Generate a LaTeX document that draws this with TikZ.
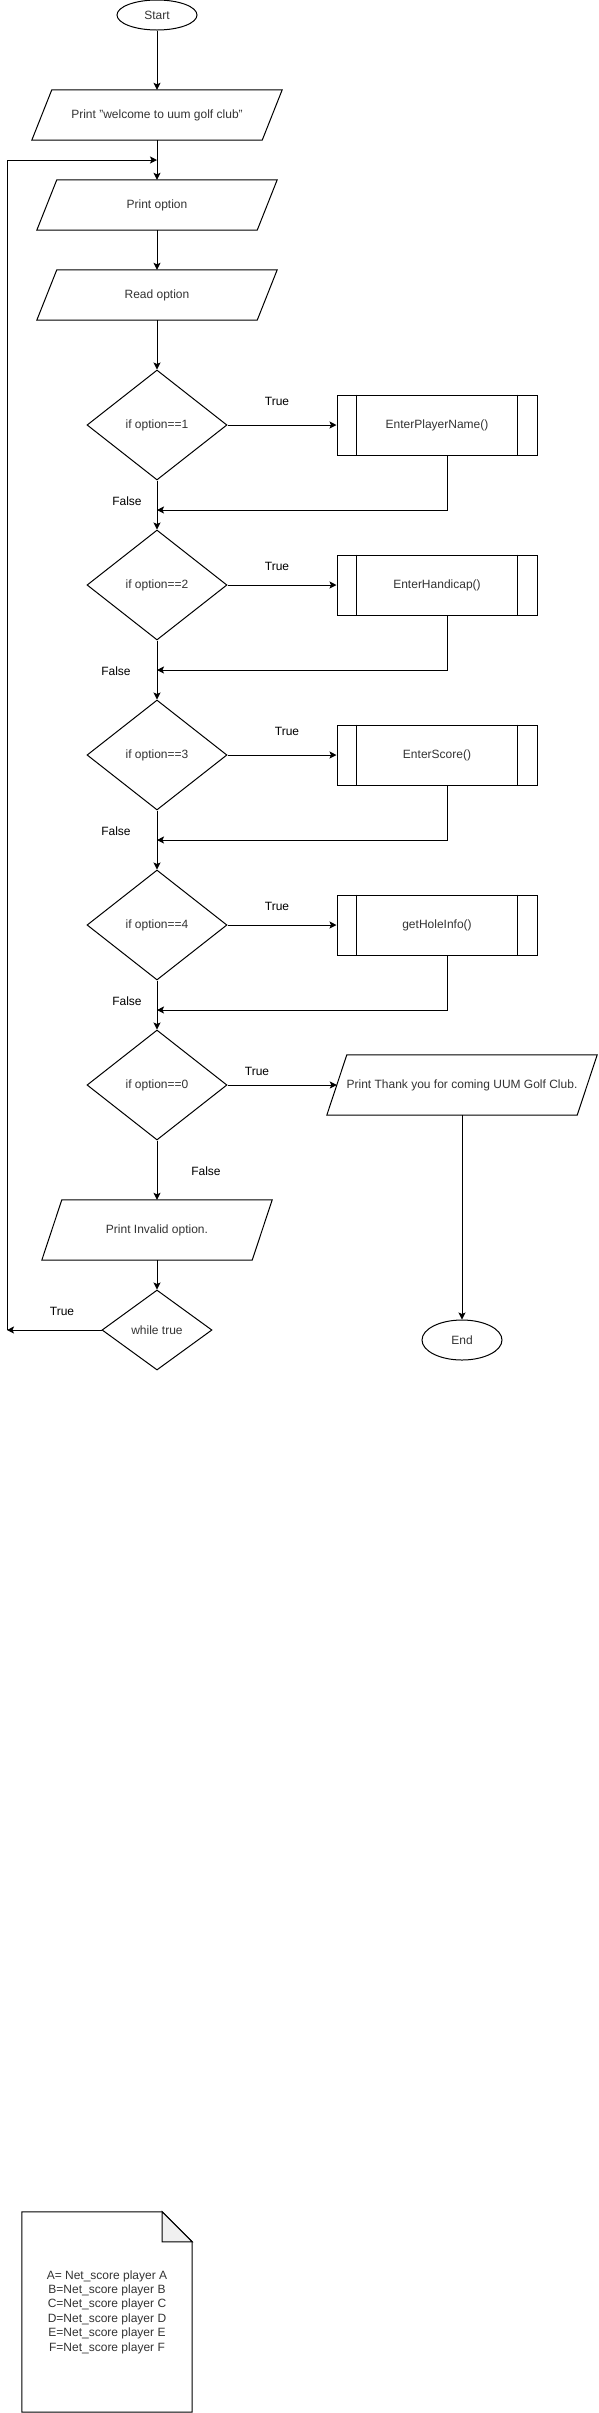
\documentclass[tikz,border=0pt]{standalone}
\usepackage{fontspec}
\setmainfont{Liberation Sans}
\usetikzlibrary{shapes.geometric,arrows.meta,calc}
\definecolor{txt}{HTML}{333333}
\definecolor{foldfill}{HTML}{F0F0F0}
\begin{document}
\begin{tikzpicture}[x=1pt,y=-1pt,
  font=\fontsize{12}{14.4}\selectfont,
  line/.style={draw=black, line width=1pt},
  arr/.style={line, -{Stealth[length=7pt,width=7pt,inset=1.5pt]}},
  base/.style={inner sep=0pt, text=txt},
  term/.style={base, ellipse, line, minimum width=80pt},
  iobox/.style={base, rectangle, draw=none},
  proc/.style={base, rectangle, line, minimum width=200pt, minimum height=60pt},
  dec/.style={base, diamond, line, minimum width=140pt, minimum height=110pt},
  lbl/.style={inner sep=0pt, text=black},
]
\useasboundingbox (0,0) rectangle (598,2413);

% nodes
\node[term, minimum height=30pt] (start) at (157,15) {Start};
\node[iobox, minimum width=230pt, minimum height=50pt] (pw) at (157,115) {Print "welcome to uum golf club"};
\node[iobox, minimum width=220pt, minimum height=50pt] (po) at (157,205) {Print option};
\node[iobox, minimum width=220pt, minimum height=50pt] (ro) at (157,295) {Read option};

\node[dec] (d1) at (157,425) {if option==1};
\node[proc] (p1) at (437,425) {EnterPlayerName()};
\node[dec] (d2) at (157,585) {if option==2};
\node[proc] (p2) at (437,585) {EnterHandicap()};
\node[dec] (d3) at (157,755) {if option==3};
\node[proc] (p3) at (437,755) {EnterScore()};
\node[dec] (d4) at (157,925) {if option==4};
\node[proc] (p4) at (437,925) {getHoleInfo()};
\node[dec] (d0) at (157,1085) {if option==0};
\node[iobox, minimum width=250pt, minimum height=60pt] (pt) at (462,1085) {Print Thank you for coming UUM Golf Club.};
\node[iobox, minimum width=210pt, minimum height=60pt] (pi) at (157,1230) {Print Invalid option.};
\node[base, diamond, line, minimum width=110pt, minimum height=80pt] (wt) at (157,1330) {while true};
\node[term, minimum height=40pt] (end) at (462,1340) {End};

% parallelograms
\foreach \n in {pw,po,ro,pt,pi}
  \draw[line] ([xshift=10pt]\n.north west) -- ([xshift=10pt]\n.north east)
     -- ([xshift=-10pt]\n.south east) -- ([xshift=-10pt]\n.south west) -- cycle;
% predefined process side bars
\foreach \n in {p1,p2,p3,p4} {
  \draw[line] ([xshift=20pt]\n.north west) -- ([xshift=20pt]\n.south west);
  \draw[line] ([xshift=-20pt]\n.north east) -- ([xshift=-20pt]\n.south east);
}

% document note
\node[iobox, minimum width=170pt, minimum height=200pt, align=center] (doc) at (107,2312)
  {A= Net\_score player A\\B=Net\_score player B\\C=Net\_score player C\\D=Net\_score player D\\E=Net\_score player E\\F=Net\_score player F};
\draw[line] (doc.north west) -- ([xshift=-30pt]doc.north east) -- ([yshift=-30pt]doc.north east)
  -- (doc.south east) -- (doc.south west) -- cycle;
\draw[line, fill=foldfill] ([xshift=-30pt]doc.north east) -- ([xshift=-30pt,yshift=-30pt]doc.north east)
  -- ([yshift=-30pt]doc.north east) -- cycle;

% coordinates
\coordinate (join) at (157,160);
\coordinate (r1) at (157,510);
\coordinate (r2) at (157,670);
\coordinate (r3) at (157,840);
\coordinate (r4) at (157,1010);
\coordinate (lp) at (7,1330);

% connectors
\draw[arr] (start) -- (pw);
\draw[arr] (pw) -- (po);
\draw[arr] (po) -- (ro);
\draw[arr] (ro) -- (d1);
\draw[arr] (d1) -- (p1);
\draw[arr] (d1) -- (d2);
\draw[arr] ([xshift=10pt]p1.south) |- (r1);
\draw[arr] (d2) -- (p2);
\draw[arr] (d2) -- (d3);
\draw[arr] ([xshift=10pt]p2.south) |- (r2);
\draw[arr] (d3) -- (p3);
\draw[arr] (d3) -- (d4);
\draw[arr] ([xshift=10pt]p3.south) |- (r3);
\draw[arr] (d4) -- (p4);
\draw[arr] (d4) -- (d0);
\draw[arr] ([xshift=10pt]p4.south) |- (r4);
\draw[arr] (d0.east) -- (pt.west);
\draw[arr] (d0) -- (pi);
\draw[arr] (pt) -- (end);
\draw[arr] (pi) -- (wt);
\draw[arr] (wt.west) -- (lp);
\draw[arr] (lp) |- (join);

% labels
\node[lbl] (t1) at (277,401) {True};
\node[lbl] (t2) at (277,566) {True};
\node[lbl] (t3) at (287,731) {True};
\node[lbl] (t4) at (277,906) {True};
\node[lbl] (t0) at (257,1071) {True};
\node[lbl] (tw) at (62,1311) {True};
\node[lbl] (f1) at (127,501) {False};
\node[lbl] (f2) at (116,671) {False};
\node[lbl] (f3) at (116,831) {False};
\node[lbl] (f4) at (127,1001) {False};
\node[lbl] (f0) at (206,1171) {False};
\end{tikzpicture}
\end{document}
